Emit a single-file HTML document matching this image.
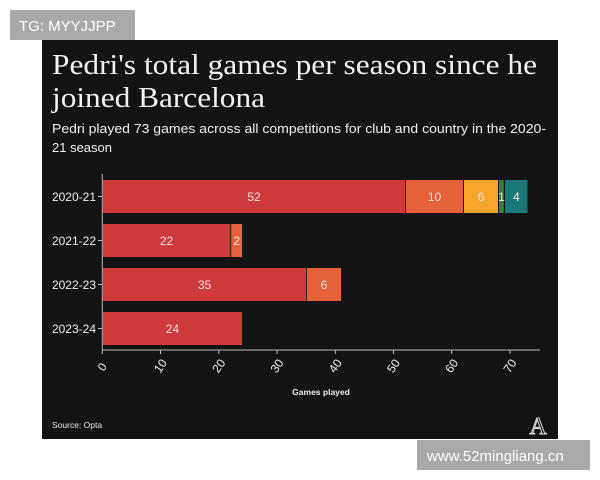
<!DOCTYPE html>
<html><head><meta charset="utf-8"><style>
html,body{margin:0;padding:0;background:#fff;}
svg{display:block;}
</style></head><body>
<svg width="600" height="480" viewBox="0 0 600 480" xmlns="http://www.w3.org/2000/svg">
<rect x="0" y="0" width="600" height="480" fill="#fff"/>
<rect x="42" y="40" width="516" height="399" fill="#131313"/>
<rect x="10" y="10" width="125" height="30" fill="#a9a9a9"/>
<text x="19" y="31" font-family="Liberation Sans, sans-serif" font-size="15" fill="#fff">TG: MYYJJPP</text>
<g font-family="Liberation Serif, serif" font-size="29" fill="#f2f2f2">
<text x="52" y="74" textLength="485" lengthAdjust="spacingAndGlyphs">Pedri's total games per season since he</text>
<text x="52" y="107" textLength="213" lengthAdjust="spacingAndGlyphs">joined Barcelona</text>
</g>
<g font-family="Liberation Sans, sans-serif" font-size="13" fill="#f2f2f2">
<text x="52" y="133" textLength="494" lengthAdjust="spacingAndGlyphs">Pedri played 73 games across all competitions for club and country in the 2020-</text>
<text x="52" y="152">21 season</text>
</g>
<line x1="102.3" y1="174" x2="102.3" y2="350" stroke="#bbb" stroke-width="1"/>
<line x1="102.3" y1="350" x2="540" y2="350" stroke="#bbb" stroke-width="1"/>
<g stroke="#bbb">
<line x1="98" y1="196.5" x2="102" y2="196.5"/><line x1="98" y1="240.5" x2="102" y2="240.5"/>
<line x1="98" y1="284.5" x2="102" y2="284.5"/><line x1="98" y1="328.5" x2="102" y2="328.5"/>
<line x1="102.3" y1="350" x2="102.3" y2="354"/><line x1="160.5" y1="350" x2="160.5" y2="354"/>
<line x1="218.8" y1="350" x2="218.8" y2="354"/><line x1="277" y1="350" x2="277" y2="354"/>
<line x1="335.3" y1="350" x2="335.3" y2="354"/><line x1="393.5" y1="350" x2="393.5" y2="354"/>
<line x1="451.7" y1="350" x2="451.7" y2="354"/><line x1="510" y1="350" x2="510" y2="354"/>
</g>
<g font-family="Liberation Sans, sans-serif" font-size="12" fill="#eee" text-anchor="end">
<text x="96" y="201">2020-21</text><text x="96" y="245">2021-22</text>
<text x="96" y="289">2022-23</text><text x="96" y="333">2023-24</text>
</g>
<g font-family="Liberation Sans, sans-serif" font-size="12" fill="#eee" text-anchor="middle">
<text transform="translate(102.3,367) rotate(-55)" dy="4">0</text>
<text transform="translate(160.5,366) rotate(-55)" dy="4">10</text>
<text transform="translate(218.8,366) rotate(-55)" dy="4">20</text>
<text transform="translate(277,366) rotate(-55)" dy="4">30</text>
<text transform="translate(335.3,366) rotate(-55)" dy="4">40</text>
<text transform="translate(393.5,366) rotate(-55)" dy="4">50</text>
<text transform="translate(451.7,366) rotate(-55)" dy="4">60</text>
<text transform="translate(510,366) rotate(-55)" dy="4">70</text>
</g>
<g>
<rect x="102.8" y="180" width="302.4" height="33" fill="#cf3a3c"/>
<rect x="406" y="180" width="57" height="33" fill="#e5613a"/>
<rect x="464" y="180" width="34" height="33" fill="#f4a52a"/>
<rect x="499" y="180" width="4.8" height="33" fill="#3b7d3a"/>
<rect x="505" y="180" width="22.5" height="33" fill="#1b7879"/>
<rect x="102.8" y="224" width="127.6" height="33" fill="#cf3a3c"/>
<rect x="231.2" y="224" width="10.9" height="33" fill="#e5613a"/>
<rect x="102.8" y="268" width="203.3" height="33" fill="#cf3a3c"/>
<rect x="306.9" y="268" width="34.2" height="33" fill="#e5613a"/>
<rect x="102.8" y="312" width="139.3" height="33" fill="#cf3a3c"/>
</g>
<g font-family="Liberation Sans, sans-serif" font-size="12" fill="#f3e6e0" text-anchor="middle">
<text x="254" y="201">52</text><text x="434.5" y="201">10</text><text x="481" y="201">6</text>
<text x="501.5" y="201">1</text><text x="516.5" y="201">4</text>
<text x="166.5" y="245">22</text><text x="236.7" y="245">2</text>
<text x="204.5" y="289">35</text><text x="324" y="289">6</text>
<text x="172.5" y="333">24</text>
</g>
<text x="321" y="395" font-family="Liberation Sans, sans-serif" font-size="8.5" font-weight="bold" fill="#eee" text-anchor="middle">Games played</text>
<text x="52" y="428" font-family="Liberation Sans, sans-serif" font-size="8.5" fill="#eee">Source: Opta</text>
<text x="538" y="434" font-family="Liberation Serif, serif" font-size="24" fill="none" stroke="#ddd" stroke-width="1" text-anchor="middle">A</text>
<rect x="417" y="440" width="173" height="30" fill="#a9a9a9"/>
<text x="427" y="461" font-family="Liberation Sans, sans-serif" font-size="15" fill="#fff">www.52mingliang.cn</text>
</svg>
</body></html>
